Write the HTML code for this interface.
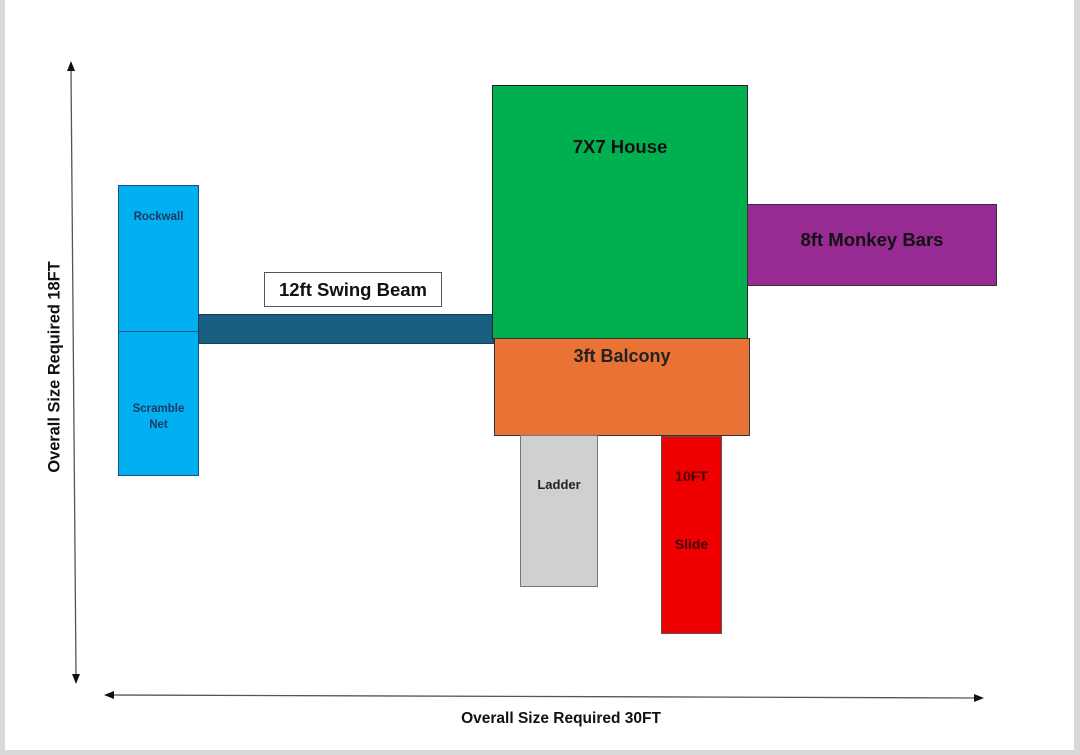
<!DOCTYPE html>
<html><head><style>
body{margin:0;width:1080px;height:755px;background:#d9d9d9;position:relative;overflow:hidden;font-family:"Liberation Sans",sans-serif;font-weight:bold}
.pg{position:absolute;left:5px;top:0;width:1069px;height:750px;background:#fff}
.b{position:absolute;box-sizing:border-box;border:1px solid #333;text-align:center}
.t{position:absolute;white-space:nowrap}
</style></head><body>
<div class="pg"></div>
<svg width="1080" height="755" style="position:absolute;left:0;top:0">
<line x1="71" y1="70" x2="76" y2="674" stroke="#555" stroke-width="1.3"/>
<polygon points="67,71 75,71 71,61" fill="#111"/>
<polygon points="72,674 80,674 76,684" fill="#111"/>
<line x1="113" y1="695" x2="975" y2="698" stroke="#555" stroke-width="1.3"/>
<polygon points="114,691 114,699 104,695" fill="#111"/>
<polygon points="974,694 974,702 984,698" fill="#111"/>
</svg>
<div class="b" style="left:118px;top:185px;width:81px;height:291px;background:#00b0f0;border-color:#1f4e79"></div>
<div style="position:absolute;left:118px;top:331px;width:81px;height:1px;background:#1f4e79"></div>
<div class="t" style="left:118px;width:81px;text-align:center;top:211px;font-size:11.5px;color:#1f3864">Rockwall</div>
<div class="t" style="left:118px;width:81px;text-align:center;top:401px;font-size:11.5px;color:#1f3864;line-height:16px">Scramble<br>Net</div>
<div class="b" style="left:198px;top:314px;width:296px;height:30px;background:#175e80;border-color:#1a3f55"></div>
<div class="b" style="left:264px;top:272px;width:178px;height:35px;background:#fff;border-color:#555;font-size:18.5px;line-height:34px;color:#111">12ft Swing Beam</div>
<div class="b" style="left:492px;top:85px;width:256px;height:254px;background:#00b050;border-color:#222"></div>
<div class="t" style="left:492px;width:256px;text-align:center;top:136px;font-size:18.5px;color:#111">7X7 House</div>
<div class="b" style="left:747px;top:204px;width:250px;height:82px;background:#982a94;border-color:#333"></div>
<div class="t" style="left:747px;width:250px;text-align:center;top:229px;font-size:18.5px;color:#111">8ft Monkey Bars</div>
<div class="b" style="left:494px;top:338px;width:256px;height:98px;background:#ea7234;border-color:#333"></div>
<div class="t" style="left:494px;width:256px;text-align:center;top:346px;font-size:18px;color:#222">3ft Balcony</div>
<div class="b" style="left:520px;top:435px;width:78px;height:152px;background:#d0d0d0;border-color:#777"></div>
<div class="t" style="left:520px;width:78px;text-align:center;top:477px;font-size:13px;color:#222">Ladder</div>
<div class="b" style="left:661px;top:436px;width:61px;height:198px;background:#ee0000;border-color:#555"></div>
<div class="t" style="left:661px;width:61px;text-align:center;top:468px;font-size:14px;color:#4a0000">10FT</div>
<div class="t" style="left:661px;width:61px;text-align:center;top:536px;font-size:14px;color:#4a0000">Slide</div>
<div class="t" style="left:55px;top:367px;font-size:16.4px;color:#111;transform:translate(-50%,-50%) rotate(-90deg)">Overall Size Required 18FT</div>
<div class="t" style="left:561px;top:719px;font-size:15.5px;color:#111;transform:translate(-50%,-50%)">Overall Size Required 30FT</div>
</body></html>
